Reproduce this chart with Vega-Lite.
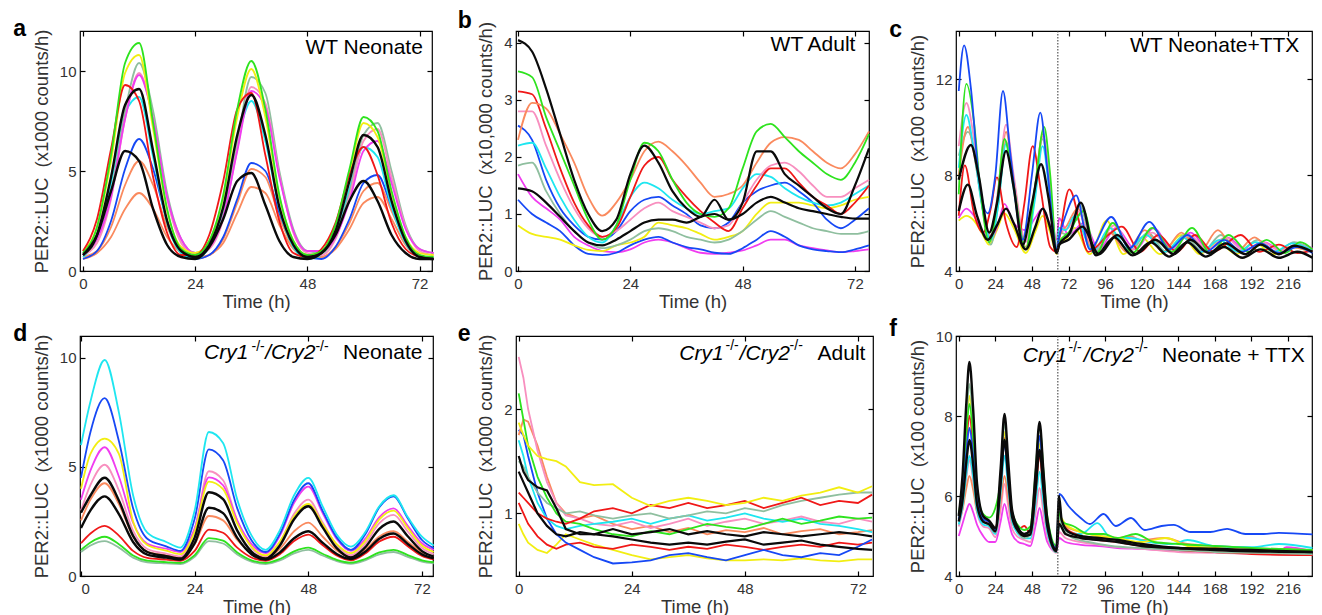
{
"$schema":"https://vega.github.io/schema/vega-lite/v6.json",
"background":"white",
"padding":{"left":12,"top":9,"right":4,"bottom":2},
"config":{
 "font":"Liberation Sans",
 "view":{"stroke":"#000","strokeWidth":1.2},
 "axis":{"grid":false,"domain":false,"tickSize":-5,"tickColor":"#000","tickWidth":1.2,"labelFontSize":15,"labelColor":"#333","titleFontSize":18.5,"titleFontWeight":"normal","titleColor":"#333"},
 "axisX":{"labelPadding":10,"titlePadding":1},
 "axisY":{"labelPadding":9,"titlePadding":8},
 "line":{"clip":true,"interpolate":"monotone"},
 "title":{"anchor":"start","frame":"bounds","fontSize":23,"fontWeight":"bold","color":"#000","dx":-19,"offset":-12,"baseline":"alphabetic"},
 "text":{"color":"#000"}
},
"datasets":{
"a":[
{"s":1,"t":0,"v":0.6},{"s":1,"t":3,"v":0.9},{"s":1,"t":6,"v":1.7},{"s":1,"t":9,"v":3.1},{"s":1,"t":12,"v":3.9},{"s":1,"t":15,"v":3.1},{"s":1,"t":18,"v":1.7},{"s":1,"t":21,"v":0.9},{"s":1,"t":24,"v":0.6},{"s":1,"t":27,"v":0.8},{"s":1,"t":30,"v":1.4},{"s":1,"t":33,"v":2.9},{"s":1,"t":36,"v":4.2},{"s":1,"t":39,"v":3.9},{"s":1,"t":42,"v":2.3},{"s":1,"t":45,"v":1.1},{"s":1,"t":48,"v":0.7},{"s":1,"t":51,"v":0.7},{"s":1,"t":54,"v":1.1},{"s":1,"t":57,"v":2.1},{"s":1,"t":60,"v":3.4},{"s":1,"t":63,"v":3.7},{"s":1,"t":66,"v":2.6},{"s":1,"t":69,"v":1.3},{"s":1,"t":72,"v":0.7},{"s":1,"t":75,"v":0.6},
{"s":2,"t":0,"v":0.7},{"s":2,"t":3,"v":1.0},{"s":2,"t":6,"v":2.2},{"s":2,"t":9,"v":4.3},{"s":2,"t":12,"v":5.5},{"s":2,"t":15,"v":4.3},{"s":2,"t":18,"v":2.2},{"s":2,"t":21,"v":1.0},{"s":2,"t":24,"v":0.7},{"s":2,"t":27,"v":0.8},{"s":2,"t":30,"v":1.6},{"s":2,"t":33,"v":3.4},{"s":2,"t":36,"v":5.1},{"s":2,"t":39,"v":4.7},{"s":2,"t":42,"v":2.7},{"s":2,"t":45,"v":1.2},{"s":2,"t":48,"v":0.7},{"s":2,"t":51,"v":0.7},{"s":2,"t":54,"v":1.2},{"s":2,"t":57,"v":2.4},{"s":2,"t":60,"v":4.0},{"s":2,"t":63,"v":4.4},{"s":2,"t":66,"v":3.0},{"s":2,"t":69,"v":1.5},{"s":2,"t":72,"v":0.8},{"s":2,"t":75,"v":0.6},
{"s":3,"t":0,"v":0.6},{"s":3,"t":3,"v":1.0},{"s":3,"t":6,"v":2.5},{"s":3,"t":9,"v":5.1},{"s":3,"t":12,"v":6.6},{"s":3,"t":15,"v":5.1},{"s":3,"t":18,"v":2.5},{"s":3,"t":21,"v":1.0},{"s":3,"t":24,"v":0.6},{"s":3,"t":27,"v":0.8},{"s":3,"t":30,"v":1.7},{"s":3,"t":33,"v":3.6},{"s":3,"t":36,"v":5.4},{"s":3,"t":39,"v":5.0},{"s":3,"t":42,"v":2.9},{"s":3,"t":45,"v":1.3},{"s":3,"t":48,"v":0.7},{"s":3,"t":51,"v":0.6},{"s":3,"t":54,"v":1.2},{"s":3,"t":57,"v":2.6},{"s":3,"t":60,"v":4.4},{"s":3,"t":63,"v":4.8},{"s":3,"t":66,"v":3.2},{"s":3,"t":69,"v":1.5},{"s":3,"t":72,"v":0.7},{"s":3,"t":75,"v":0.6},
{"s":4,"t":0,"v":0.7},{"s":4,"t":3,"v":1.7},{"s":4,"t":6,"v":4.4},{"s":4,"t":9,"v":7.9},{"s":4,"t":12,"v":8.7},{"s":4,"t":15,"v":5.7},{"s":4,"t":18,"v":2.4},{"s":4,"t":21,"v":0.9},{"s":4,"t":24,"v":0.6},{"s":4,"t":27,"v":1.2},{"s":4,"t":30,"v":3.1},{"s":4,"t":33,"v":6.5},{"s":4,"t":36,"v":8.5},{"s":4,"t":39,"v":6.5},{"s":4,"t":42,"v":3.1},{"s":4,"t":45,"v":1.2},{"s":4,"t":48,"v":0.6},{"s":4,"t":51,"v":0.8},{"s":4,"t":54,"v":1.8},{"s":4,"t":57,"v":4.1},{"s":4,"t":60,"v":6.2},{"s":4,"t":63,"v":5.7},{"s":4,"t":66,"v":3.2},{"s":4,"t":69,"v":1.4},{"s":4,"t":72,"v":0.7},{"s":4,"t":75,"v":0.6},
{"s":5,"t":0,"v":0.9},{"s":5,"t":3,"v":1.6},{"s":5,"t":6,"v":3.9},{"s":5,"t":9,"v":8.0},{"s":5,"t":12,"v":10.4},{"s":5,"t":15,"v":8.0},{"s":5,"t":18,"v":3.9},{"s":5,"t":21,"v":1.6},{"s":5,"t":24,"v":0.9},{"s":5,"t":27,"v":1.2},{"s":5,"t":30,"v":2.8},{"s":5,"t":33,"v":6.4},{"s":5,"t":36,"v":9.7},{"s":5,"t":39,"v":8.9},{"s":5,"t":42,"v":5.0},{"s":5,"t":45,"v":2.1},{"s":5,"t":48,"v":1.0},{"s":5,"t":51,"v":0.9},{"s":5,"t":54,"v":1.8},{"s":5,"t":57,"v":3.9},{"s":5,"t":60,"v":6.8},{"s":5,"t":63,"v":7.4},{"s":5,"t":66,"v":5.0},{"s":5,"t":69,"v":2.3},{"s":5,"t":72,"v":1.1},{"s":5,"t":75,"v":0.9},
{"s":6,"t":0,"v":0.8},{"s":6,"t":3,"v":1.4},{"s":6,"t":6,"v":3.6},{"s":6,"t":9,"v":7.6},{"s":6,"t":12,"v":9.9},{"s":6,"t":15,"v":7.6},{"s":6,"t":18,"v":3.6},{"s":6,"t":21,"v":1.4},{"s":6,"t":24,"v":0.8},{"s":6,"t":27,"v":1.1},{"s":6,"t":30,"v":2.6},{"s":6,"t":33,"v":6.1},{"s":6,"t":36,"v":9.2},{"s":6,"t":39,"v":8.4},{"s":6,"t":42,"v":4.8},{"s":6,"t":45,"v":1.9},{"s":6,"t":48,"v":0.9},{"s":6,"t":51,"v":0.8},{"s":6,"t":54,"v":1.6},{"s":6,"t":57,"v":3.7},{"s":6,"t":60,"v":6.5},{"s":6,"t":63,"v":7.1},{"s":6,"t":66,"v":4.7},{"s":6,"t":69,"v":2.2},{"s":6,"t":72,"v":1.0},{"s":6,"t":75,"v":0.8},
{"s":7,"t":0,"v":0.9},{"s":7,"t":3,"v":1.6},{"s":7,"t":6,"v":3.7},{"s":7,"t":9,"v":7.6},{"s":7,"t":12,"v":9.8},{"s":7,"t":15,"v":7.6},{"s":7,"t":18,"v":3.7},{"s":7,"t":21,"v":1.6},{"s":7,"t":24,"v":0.9},{"s":7,"t":27,"v":1.2},{"s":7,"t":30,"v":2.7},{"s":7,"t":33,"v":6.0},{"s":7,"t":36,"v":9.0},{"s":7,"t":39,"v":8.2},{"s":7,"t":42,"v":4.7},{"s":7,"t":45,"v":2.0},{"s":7,"t":48,"v":1.0},{"s":7,"t":51,"v":1.0},{"s":7,"t":54,"v":1.7},{"s":7,"t":57,"v":3.5},{"s":7,"t":60,"v":6.0},{"s":7,"t":63,"v":6.5},{"s":7,"t":66,"v":4.4},{"s":7,"t":69,"v":2.1},{"s":7,"t":72,"v":1.1},{"s":7,"t":75,"v":0.9},
{"s":8,"t":0,"v":1.0},{"s":8,"t":3,"v":2.2},{"s":8,"t":6,"v":5.5},{"s":8,"t":9,"v":9.9},{"s":8,"t":12,"v":10.8},{"s":8,"t":15,"v":7.1},{"s":8,"t":18,"v":3.0},{"s":8,"t":21,"v":1.2},{"s":8,"t":24,"v":0.9},{"s":8,"t":27,"v":1.5},{"s":8,"t":30,"v":3.7},{"s":8,"t":33,"v":7.7},{"s":8,"t":36,"v":10.1},{"s":8,"t":39,"v":7.7},{"s":8,"t":42,"v":3.7},{"s":8,"t":45,"v":1.5},{"s":8,"t":48,"v":0.8},{"s":8,"t":51,"v":1.0},{"s":8,"t":54,"v":2.3},{"s":8,"t":57,"v":4.9},{"s":8,"t":60,"v":7.4},{"s":8,"t":63,"v":6.7},{"s":8,"t":66,"v":3.9},{"s":8,"t":69,"v":1.7},{"s":8,"t":72,"v":0.9},{"s":8,"t":75,"v":0.8},
{"s":9,"t":0,"v":1.0},{"s":9,"t":3,"v":2.6},{"s":9,"t":6,"v":6.1},{"s":9,"t":9,"v":9.3},{"s":9,"t":12,"v":8.5},{"s":9,"t":15,"v":4.7},{"s":9,"t":18,"v":1.9},{"s":9,"t":21,"v":0.8},{"s":9,"t":24,"v":0.8},{"s":9,"t":27,"v":1.8},{"s":9,"t":30,"v":4.5},{"s":9,"t":33,"v":8.1},{"s":9,"t":36,"v":8.9},{"s":9,"t":39,"v":5.8},{"s":9,"t":42,"v":2.5},{"s":9,"t":45,"v":0.9},{"s":9,"t":48,"v":0.7},{"s":9,"t":51,"v":1.1},{"s":9,"t":54,"v":2.4},{"s":9,"t":57,"v":4.8},{"s":9,"t":60,"v":6.2},{"s":9,"t":63,"v":4.8},{"s":9,"t":66,"v":2.4},{"s":9,"t":69,"v":1.1},{"s":9,"t":72,"v":0.7},{"s":9,"t":75,"v":0.6},
{"s":10,"t":0,"v":0.9},{"s":10,"t":3,"v":2.2},{"s":10,"t":6,"v":5.8},{"s":10,"t":9,"v":10.4},{"s":10,"t":12,"v":11.4},{"s":10,"t":15,"v":7.4},{"s":10,"t":18,"v":3.1},{"s":10,"t":21,"v":1.1},{"s":10,"t":24,"v":0.8},{"s":10,"t":27,"v":1.5},{"s":10,"t":30,"v":3.8},{"s":10,"t":33,"v":8.1},{"s":10,"t":36,"v":10.5},{"s":10,"t":39,"v":8.1},{"s":10,"t":42,"v":3.8},{"s":10,"t":45,"v":1.5},{"s":10,"t":48,"v":0.8},{"s":10,"t":51,"v":1.0},{"s":10,"t":54,"v":2.3},{"s":10,"t":57,"v":5.1},{"s":10,"t":60,"v":7.7},{"s":10,"t":63,"v":7.0},{"s":10,"t":66,"v":4.0},{"s":10,"t":69,"v":1.7},{"s":10,"t":72,"v":0.8},{"s":10,"t":75,"v":0.7},
{"s":11,"t":0,"v":0.8},{"s":11,"t":3,"v":1.8},{"s":11,"t":6,"v":4.0},{"s":11,"t":9,"v":6.0},{"s":11,"t":12,"v":5.5},{"s":11,"t":15,"v":3.1},{"s":11,"t":18,"v":1.3},{"s":11,"t":21,"v":0.7},{"s":11,"t":24,"v":0.6},{"s":11,"t":27,"v":1.2},{"s":11,"t":30,"v":2.6},{"s":11,"t":33,"v":4.5},{"s":11,"t":36,"v":4.9},{"s":11,"t":39,"v":3.3},{"s":11,"t":42,"v":1.5},{"s":11,"t":45,"v":0.7},{"s":11,"t":48,"v":0.6},{"s":11,"t":51,"v":0.9},{"s":11,"t":54,"v":1.8},{"s":11,"t":57,"v":3.5},{"s":11,"t":60,"v":4.5},{"s":11,"t":63,"v":3.5},{"s":11,"t":66,"v":1.8},{"s":11,"t":69,"v":0.9},{"s":11,"t":72,"v":0.6},{"s":11,"t":75,"v":0.6},
{"s":12,"t":0,"v":0.8},{"s":12,"t":3,"v":1.8},{"s":12,"t":6,"v":4.7},{"s":12,"t":9,"v":8.3},{"s":12,"t":12,"v":9.1},{"s":12,"t":15,"v":6.0},{"s":12,"t":18,"v":2.5},{"s":12,"t":21,"v":1.0},{"s":12,"t":24,"v":0.7},{"s":12,"t":27,"v":1.3},{"s":12,"t":30,"v":3.2},{"s":12,"t":33,"v":6.8},{"s":12,"t":36,"v":8.8},{"s":12,"t":39,"v":6.8},{"s":12,"t":42,"v":3.2},{"s":12,"t":45,"v":1.3},{"s":12,"t":48,"v":0.7},{"s":12,"t":51,"v":0.9},{"s":12,"t":54,"v":2.0},{"s":12,"t":57,"v":4.5},{"s":12,"t":60,"v":6.8},{"s":12,"t":63,"v":6.2},{"s":12,"t":66,"v":3.5},{"s":12,"t":69,"v":1.5},{"s":12,"t":72,"v":0.7},{"s":12,"t":75,"v":0.6}
],
"b":[
{"s":1,"t":0,"v":1.7},{"s":1,"t":3,"v":1.3},{"s":1,"t":6,"v":1.1},{"s":1,"t":9,"v":0.9},{"s":1,"t":12,"v":0.6},{"s":1,"t":15,"v":0.45},{"s":1,"t":18,"v":0.35},{"s":1,"t":21,"v":0.33},{"s":1,"t":24,"v":0.38},{"s":1,"t":27,"v":0.5},{"s":1,"t":30,"v":0.55},{"s":1,"t":33,"v":0.5},{"s":1,"t":36,"v":0.4},{"s":1,"t":39,"v":0.32},{"s":1,"t":42,"v":0.3},{"s":1,"t":45,"v":0.32},{"s":1,"t":48,"v":0.36},{"s":1,"t":51,"v":0.45},{"s":1,"t":54,"v":0.55},{"s":1,"t":57,"v":0.55},{"s":1,"t":60,"v":0.45},{"s":1,"t":63,"v":0.4},{"s":1,"t":66,"v":0.36},{"s":1,"t":69,"v":0.33},{"s":1,"t":72,"v":0.35},{"s":1,"t":75,"v":0.38},
{"s":2,"t":0,"v":1.25},{"s":2,"t":3,"v":1.0},{"s":2,"t":6,"v":0.85},{"s":2,"t":9,"v":0.7},{"s":2,"t":12,"v":0.45},{"s":2,"t":15,"v":0.3},{"s":2,"t":18,"v":0.28},{"s":2,"t":21,"v":0.32},{"s":2,"t":24,"v":0.45},{"s":2,"t":27,"v":0.55},{"s":2,"t":30,"v":0.6},{"s":2,"t":33,"v":0.5},{"s":2,"t":36,"v":0.42},{"s":2,"t":39,"v":0.38},{"s":2,"t":42,"v":0.32},{"s":2,"t":45,"v":0.3},{"s":2,"t":48,"v":0.4},{"s":2,"t":51,"v":0.55},{"s":2,"t":54,"v":0.7},{"s":2,"t":57,"v":0.6},{"s":2,"t":60,"v":0.45},{"s":2,"t":63,"v":0.38},{"s":2,"t":66,"v":0.35},{"s":2,"t":69,"v":0.33},{"s":2,"t":72,"v":0.38},{"s":2,"t":75,"v":0.45},
{"s":3,"t":0,"v":0.8},{"s":3,"t":3,"v":0.65},{"s":3,"t":6,"v":0.6},{"s":3,"t":9,"v":0.55},{"s":3,"t":12,"v":0.45},{"s":3,"t":15,"v":0.37},{"s":3,"t":18,"v":0.35},{"s":3,"t":21,"v":0.45},{"s":3,"t":24,"v":0.5},{"s":3,"t":27,"v":0.6},{"s":3,"t":30,"v":0.85},{"s":3,"t":33,"v":0.8},{"s":3,"t":36,"v":0.75},{"s":3,"t":39,"v":0.65},{"s":3,"t":42,"v":0.55},{"s":3,"t":45,"v":0.6},{"s":3,"t":48,"v":0.7},{"s":3,"t":51,"v":1.0},{"s":3,"t":54,"v":1.2},{"s":3,"t":57,"v":1.2},{"s":3,"t":60,"v":1.2},{"s":3,"t":63,"v":1.15},{"s":3,"t":66,"v":1.1},{"s":3,"t":69,"v":1.15},{"s":3,"t":72,"v":1.25},{"s":3,"t":75,"v":1.3},
{"s":4,"t":0,"v":1.85},{"s":4,"t":3,"v":1.9},{"s":4,"t":6,"v":1.4},{"s":4,"t":9,"v":1.0},{"s":4,"t":12,"v":0.7},{"s":4,"t":15,"v":0.5},{"s":4,"t":18,"v":0.4},{"s":4,"t":21,"v":0.45},{"s":4,"t":24,"v":0.55},{"s":4,"t":27,"v":0.7},{"s":4,"t":30,"v":0.75},{"s":4,"t":33,"v":0.7},{"s":4,"t":36,"v":0.6},{"s":4,"t":39,"v":0.55},{"s":4,"t":42,"v":0.5},{"s":4,"t":45,"v":0.55},{"s":4,"t":48,"v":0.7},{"s":4,"t":51,"v":0.9},{"s":4,"t":54,"v":1.05},{"s":4,"t":57,"v":0.95},{"s":4,"t":60,"v":0.85},{"s":4,"t":63,"v":0.75},{"s":4,"t":66,"v":0.7},{"s":4,"t":69,"v":0.65},{"s":4,"t":72,"v":0.65},{"s":4,"t":75,"v":0.7},
{"s":5,"t":0,"v":2.55},{"s":5,"t":3,"v":2.3},{"s":5,"t":6,"v":1.6},{"s":5,"t":9,"v":1.1},{"s":5,"t":12,"v":0.8},{"s":5,"t":15,"v":0.6},{"s":5,"t":18,"v":0.55},{"s":5,"t":21,"v":0.7},{"s":5,"t":24,"v":1.05},{"s":5,"t":27,"v":1.25},{"s":5,"t":30,"v":1.3},{"s":5,"t":33,"v":1.15},{"s":5,"t":36,"v":1.0},{"s":5,"t":39,"v":0.8},{"s":5,"t":42,"v":0.75},{"s":5,"t":45,"v":0.85},{"s":5,"t":48,"v":1.2},{"s":5,"t":51,"v":1.4},{"s":5,"t":54,"v":1.5},{"s":5,"t":57,"v":1.55},{"s":5,"t":60,"v":1.4},{"s":5,"t":63,"v":1.2},{"s":5,"t":66,"v":0.9},{"s":5,"t":69,"v":0.75},{"s":5,"t":72,"v":0.9},{"s":5,"t":75,"v":1.1},
{"s":6,"t":0,"v":2.2},{"s":6,"t":3,"v":2.25},{"s":6,"t":6,"v":1.8},{"s":6,"t":9,"v":1.3},{"s":6,"t":12,"v":0.9},{"s":6,"t":15,"v":0.6},{"s":6,"t":18,"v":0.5},{"s":6,"t":21,"v":0.8},{"s":6,"t":24,"v":1.3},{"s":6,"t":27,"v":1.55},{"s":6,"t":30,"v":1.45},{"s":6,"t":33,"v":1.25},{"s":6,"t":36,"v":1.1},{"s":6,"t":39,"v":1.0},{"s":6,"t":42,"v":1.05},{"s":6,"t":45,"v":1.1},{"s":6,"t":48,"v":1.45},{"s":6,"t":51,"v":1.7},{"s":6,"t":54,"v":1.65},{"s":6,"t":57,"v":1.45},{"s":6,"t":60,"v":1.3},{"s":6,"t":63,"v":1.2},{"s":6,"t":66,"v":1.15},{"s":6,"t":69,"v":1.2},{"s":6,"t":72,"v":1.35},{"s":6,"t":75,"v":1.5},
{"s":7,"t":0,"v":2.8},{"s":7,"t":3,"v":2.8},{"s":7,"t":6,"v":2.2},{"s":7,"t":9,"v":1.6},{"s":7,"t":12,"v":1.1},{"s":7,"t":15,"v":0.75},{"s":7,"t":18,"v":0.6},{"s":7,"t":21,"v":0.7},{"s":7,"t":24,"v":0.9},{"s":7,"t":27,"v":1.1},{"s":7,"t":30,"v":1.2},{"s":7,"t":33,"v":1.05},{"s":7,"t":36,"v":0.95},{"s":7,"t":39,"v":0.85},{"s":7,"t":42,"v":0.75},{"s":7,"t":45,"v":0.8},{"s":7,"t":48,"v":1.2},{"s":7,"t":51,"v":1.6},{"s":7,"t":54,"v":1.85},{"s":7,"t":57,"v":1.9},{"s":7,"t":60,"v":1.75},{"s":7,"t":63,"v":1.5},{"s":7,"t":66,"v":1.3},{"s":7,"t":69,"v":1.3},{"s":7,"t":72,"v":1.45},{"s":7,"t":75,"v":1.6},
{"s":8,"t":0,"v":3.15},{"s":8,"t":3,"v":3.1},{"s":8,"t":6,"v":2.5},{"s":8,"t":9,"v":1.8},{"s":8,"t":12,"v":1.2},{"s":8,"t":15,"v":0.8},{"s":8,"t":18,"v":0.6},{"s":8,"t":21,"v":0.75},{"s":8,"t":24,"v":1.3},{"s":8,"t":27,"v":1.85},{"s":8,"t":30,"v":2.0},{"s":8,"t":33,"v":1.6},{"s":8,"t":36,"v":1.3},{"s":8,"t":39,"v":1.05},{"s":8,"t":42,"v":0.85},{"s":8,"t":45,"v":0.7},{"s":8,"t":48,"v":1.1},{"s":8,"t":51,"v":1.5},{"s":8,"t":54,"v":1.8},{"s":8,"t":57,"v":1.8},{"s":8,"t":60,"v":1.55},{"s":8,"t":63,"v":1.3},{"s":8,"t":66,"v":1.15},{"s":8,"t":69,"v":1.0},{"s":8,"t":72,"v":1.2},{"s":8,"t":75,"v":1.5},
{"s":9,"t":0,"v":2.3},{"s":9,"t":3,"v":2.95},{"s":9,"t":6,"v":2.85},{"s":9,"t":9,"v":2.4},{"s":9,"t":12,"v":1.9},{"s":9,"t":15,"v":1.3},{"s":9,"t":18,"v":0.97},{"s":9,"t":21,"v":1.2},{"s":9,"t":24,"v":1.6},{"s":9,"t":27,"v":2.1},{"s":9,"t":30,"v":2.27},{"s":9,"t":33,"v":2.1},{"s":9,"t":36,"v":1.85},{"s":9,"t":39,"v":1.55},{"s":9,"t":42,"v":1.3},{"s":9,"t":45,"v":1.35},{"s":9,"t":48,"v":1.5},{"s":9,"t":51,"v":1.9},{"s":9,"t":54,"v":2.25},{"s":9,"t":57,"v":2.35},{"s":9,"t":60,"v":2.3},{"s":9,"t":63,"v":2.1},{"s":9,"t":66,"v":1.9},{"s":9,"t":69,"v":1.8},{"s":9,"t":72,"v":2.05},{"s":9,"t":75,"v":2.45},
{"s":10,"t":0,"v":3.5},{"s":10,"t":3,"v":3.4},{"s":10,"t":6,"v":2.7},{"s":10,"t":9,"v":2.1},{"s":10,"t":12,"v":1.5},{"s":10,"t":15,"v":0.9},{"s":10,"t":18,"v":0.55},{"s":10,"t":21,"v":0.8},{"s":10,"t":24,"v":1.6},{"s":10,"t":27,"v":2.25},{"s":10,"t":30,"v":2.1},{"s":10,"t":33,"v":1.6},{"s":10,"t":36,"v":1.2},{"s":10,"t":39,"v":1.0},{"s":10,"t":42,"v":0.95},{"s":10,"t":45,"v":1.1},{"s":10,"t":48,"v":1.8},{"s":10,"t":51,"v":2.45},{"s":10,"t":54,"v":2.58},{"s":10,"t":57,"v":2.35},{"s":10,"t":60,"v":2.1},{"s":10,"t":63,"v":1.9},{"s":10,"t":66,"v":1.7},{"s":10,"t":69,"v":1.6},{"s":10,"t":72,"v":1.9},{"s":10,"t":75,"v":2.4},
{"s":11,"t":0,"v":1.45},{"s":11,"t":3,"v":1.4},{"s":11,"t":6,"v":1.2},{"s":11,"t":9,"v":0.95},{"s":11,"t":12,"v":0.7},{"s":11,"t":15,"v":0.5},{"s":11,"t":18,"v":0.45},{"s":11,"t":21,"v":0.55},{"s":11,"t":24,"v":0.7},{"s":11,"t":27,"v":0.85},{"s":11,"t":30,"v":0.9},{"s":11,"t":33,"v":0.9},{"s":11,"t":36,"v":0.85},{"s":11,"t":39,"v":0.95},{"s":11,"t":42,"v":1.0},{"s":11,"t":45,"v":0.9},{"s":11,"t":48,"v":1.0},{"s":11,"t":51,"v":1.2},{"s":11,"t":54,"v":1.3},{"s":11,"t":57,"v":1.2},{"s":11,"t":60,"v":1.1},{"s":11,"t":63,"v":1.05},{"s":11,"t":66,"v":1.0},{"s":11,"t":69,"v":0.95},{"s":11,"t":72,"v":0.92},{"s":11,"t":75,"v":0.92},
{"s":12,"t":0,"v":4.05},{"s":12,"t":3,"v":3.85},{"s":12,"t":6,"v":3.2},{"s":12,"t":9,"v":2.4},{"s":12,"t":12,"v":1.6},{"s":12,"t":15,"v":1.0},{"s":12,"t":18,"v":0.7},{"s":12,"t":21,"v":0.9},{"s":12,"t":24,"v":1.7},{"s":12,"t":27,"v":2.2},{"s":12,"t":30,"v":1.9},{"s":12,"t":33,"v":1.4},{"s":12,"t":36,"v":1.1},{"s":12,"t":39,"v":0.95},{"s":12,"t":42,"v":1.25},{"s":12,"t":45,"v":0.9},{"s":12,"t":48,"v":1.2},{"s":12,"t":51,"v":2.1},{"s":12,"t":54,"v":2.1},{"s":12,"t":57,"v":1.7},{"s":12,"t":60,"v":1.5},{"s":12,"t":63,"v":1.3},{"s":12,"t":66,"v":1.1},{"s":12,"t":69,"v":1.0},{"s":12,"t":72,"v":1.5},{"s":12,"t":75,"v":2.15}
],
"c":[
{"s":1,"t":0,"v":6.1},{"s":1,"t":5,"v":6.3},{"s":1,"t":10,"v":6.1},{"s":1,"t":15,"v":5.6},{"s":1,"t":20,"v":5.1},{"s":1,"t":25,"v":5.7},{"s":1,"t":30,"v":6.4},{"s":1,"t":36,"v":5.8},{"s":1,"t":44,"v":4.75},{"s":1,"t":50,"v":5.6},{"s":1,"t":55,"v":6.3},{"s":1,"t":60,"v":5.6},{"s":1,"t":64.3,"v":4.7},{"s":1,"t":65.8,"v":5.2},{"s":1,"t":70,"v":5.3},{"s":1,"t":76,"v":5.8},{"s":1,"t":86,"v":4.7},{"s":1,"t":97,"v":6.1},{"s":1,"t":108,"v":4.7},{"s":1,"t":120,"v":5.4},{"s":1,"t":132,"v":4.7},{"s":1,"t":146,"v":5.5},{"s":1,"t":158,"v":4.7},{"s":1,"t":170,"v":5.2},{"s":1,"t":182,"v":4.7},{"s":1,"t":194,"v":5.2},{"s":1,"t":206,"v":4.7},{"s":1,"t":218,"v":5.0},{"s":1,"t":232,"v":4.8},
{"s":2,"t":0,"v":6.2},{"s":2,"t":5,"v":6.6},{"s":2,"t":10,"v":6.3},{"s":2,"t":15,"v":5.7},{"s":2,"t":21,"v":5.3},{"s":2,"t":26,"v":6.0},{"s":2,"t":30,"v":6.8},{"s":2,"t":36,"v":6.0},{"s":2,"t":44,"v":5.7},{"s":2,"t":50,"v":6.2},{"s":2,"t":55,"v":6.6},{"s":2,"t":60,"v":5.9},{"s":2,"t":64.3,"v":5.3},{"s":2,"t":65.8,"v":6.2},{"s":2,"t":72,"v":5.5},{"s":2,"t":82,"v":6.0},{"s":2,"t":92,"v":4.9},{"s":2,"t":103,"v":5.8},{"s":2,"t":116,"v":4.9},{"s":2,"t":128,"v":5.8},{"s":2,"t":140,"v":4.9},{"s":2,"t":152,"v":5.6},{"s":2,"t":164,"v":4.9},{"s":2,"t":176,"v":5.4},{"s":2,"t":188,"v":4.9},{"s":2,"t":200,"v":5.2},{"s":2,"t":212,"v":4.85},{"s":2,"t":224,"v":5.1},{"s":2,"t":232,"v":4.95},
{"s":3,"t":0,"v":8.8},{"s":3,"t":6,"v":9.8},{"s":3,"t":11,"v":8.8},{"s":3,"t":16,"v":6.5},{"s":3,"t":21,"v":5.1},{"s":3,"t":26,"v":6.8},{"s":3,"t":31,"v":9.4},{"s":3,"t":36,"v":7.6},{"s":3,"t":44,"v":4.9},{"s":3,"t":50,"v":7.3},{"s":3,"t":55,"v":9.5},{"s":3,"t":60,"v":7.3},{"s":3,"t":64.3,"v":4.9},{"s":3,"t":65.8,"v":5.6},{"s":3,"t":73,"v":5.5},{"s":3,"t":79,"v":6.8},{"s":3,"t":89,"v":4.75},{"s":3,"t":100,"v":5.6},{"s":3,"t":112,"v":4.8},{"s":3,"t":124,"v":5.6},{"s":3,"t":136,"v":4.8},{"s":3,"t":148,"v":5.5},{"s":3,"t":160,"v":4.8},{"s":3,"t":172,"v":5.5},{"s":3,"t":184,"v":4.8},{"s":3,"t":196,"v":5.3},{"s":3,"t":208,"v":4.8},{"s":3,"t":220,"v":5.2},{"s":3,"t":232,"v":4.85},
{"s":4,"t":0,"v":8.0},{"s":4,"t":6,"v":10.0},{"s":4,"t":11,"v":8.5},{"s":4,"t":16,"v":6.5},{"s":4,"t":21,"v":5.4},{"s":4,"t":26,"v":7.0},{"s":4,"t":31,"v":9.8},{"s":4,"t":36,"v":7.8},{"s":4,"t":44,"v":5.0},{"s":4,"t":50,"v":7.3},{"s":4,"t":55,"v":9.7},{"s":4,"t":60,"v":7.4},{"s":4,"t":64.3,"v":4.9},{"s":4,"t":65.8,"v":5.4},{"s":4,"t":71,"v":5.9},{"s":4,"t":78,"v":6.6},{"s":4,"t":88,"v":4.8},{"s":4,"t":99,"v":5.6},{"s":4,"t":110,"v":4.8},{"s":4,"t":122,"v":5.7},{"s":4,"t":134,"v":4.8},{"s":4,"t":146,"v":5.6},{"s":4,"t":158,"v":4.8},{"s":4,"t":170,"v":5.7},{"s":4,"t":182,"v":4.8},{"s":4,"t":194,"v":5.4},{"s":4,"t":206,"v":4.8},{"s":4,"t":218,"v":5.0},{"s":4,"t":232,"v":4.8},
{"s":5,"t":0,"v":9.2},{"s":5,"t":5,"v":11.0},{"s":5,"t":10,"v":9.5},{"s":5,"t":15,"v":7.0},{"s":5,"t":21,"v":5.5},{"s":5,"t":26,"v":7.5},{"s":5,"t":31,"v":10.1},{"s":5,"t":36,"v":8.0},{"s":5,"t":44,"v":5.2},{"s":5,"t":50,"v":7.5},{"s":5,"t":55,"v":9.6},{"s":5,"t":60,"v":7.5},{"s":5,"t":64.3,"v":5.0},{"s":5,"t":65.8,"v":5.6},{"s":5,"t":72,"v":5.8},{"s":5,"t":78,"v":6.5},{"s":5,"t":89,"v":4.9},{"s":5,"t":102,"v":5.9},{"s":5,"t":114,"v":4.9},{"s":5,"t":127,"v":5.6},{"s":5,"t":139,"v":4.9},{"s":5,"t":151,"v":5.5},{"s":5,"t":163,"v":4.9},{"s":5,"t":175,"v":5.4},{"s":5,"t":187,"v":4.85},{"s":5,"t":199,"v":5.2},{"s":5,"t":211,"v":4.85},{"s":5,"t":222,"v":5.1},{"s":5,"t":232,"v":4.9},
{"s":6,"t":0,"v":8.3},{"s":6,"t":5,"v":10.5},{"s":6,"t":10,"v":9.0},{"s":6,"t":15,"v":6.8},{"s":6,"t":21,"v":5.3},{"s":6,"t":26,"v":6.8},{"s":6,"t":31,"v":9.3},{"s":6,"t":36,"v":7.4},{"s":6,"t":44,"v":4.9},{"s":6,"t":50,"v":7.0},{"s":6,"t":55,"v":9.2},{"s":6,"t":60,"v":7.0},{"s":6,"t":64.3,"v":4.85},{"s":6,"t":65.8,"v":5.8},{"s":6,"t":70,"v":5.7},{"s":6,"t":76,"v":6.3},{"s":6,"t":88,"v":4.8},{"s":6,"t":99,"v":5.8},{"s":6,"t":111,"v":4.9},{"s":6,"t":123,"v":5.5},{"s":6,"t":135,"v":4.8},{"s":6,"t":147,"v":5.4},{"s":6,"t":159,"v":4.8},{"s":6,"t":171,"v":5.3},{"s":6,"t":183,"v":4.8},{"s":6,"t":195,"v":5.2},{"s":6,"t":207,"v":4.8},{"s":6,"t":219,"v":5.15},{"s":6,"t":232,"v":4.85},
{"s":7,"t":0,"v":6.3},{"s":7,"t":4,"v":8.4},{"s":7,"t":10,"v":6.4},{"s":7,"t":16,"v":5.6},{"s":7,"t":21,"v":6.6},{"s":7,"t":25,"v":7.9},{"s":7,"t":31,"v":6.0},{"s":7,"t":38,"v":5.0},{"s":7,"t":43,"v":6.8},{"s":7,"t":48.5,"v":9.2},{"s":7,"t":54,"v":7.3},{"s":7,"t":60,"v":5.0},{"s":7,"t":64.3,"v":4.8},{"s":7,"t":65.8,"v":5.3},{"s":7,"t":72.5,"v":7.4},{"s":7,"t":85,"v":4.8},{"s":7,"t":98,"v":5.5},{"s":7,"t":107,"v":5.85},{"s":7,"t":119,"v":4.8},{"s":7,"t":131,"v":5.5},{"s":7,"t":143,"v":4.8},{"s":7,"t":155,"v":5.5},{"s":7,"t":167,"v":4.8},{"s":7,"t":185,"v":5.5},{"s":7,"t":197,"v":4.8},{"s":7,"t":210,"v":5.1},{"s":7,"t":222,"v":4.75},{"s":7,"t":232,"v":4.85},
{"s":8,"t":0,"v":7.2},{"s":8,"t":5,"v":11.8},{"s":8,"t":10,"v":10.2},{"s":8,"t":14,"v":7.5},{"s":8,"t":20,"v":5.2},{"s":8,"t":25,"v":6.8},{"s":8,"t":30,"v":9.5},{"s":8,"t":35,"v":8.0},{"s":8,"t":44,"v":4.9},{"s":8,"t":50,"v":7.5},{"s":8,"t":56,"v":10.0},{"s":8,"t":60,"v":8.0},{"s":8,"t":64.3,"v":4.8},{"s":8,"t":65.8,"v":5.2},{"s":8,"t":72,"v":5.6},{"s":8,"t":82,"v":6.5},{"s":8,"t":90,"v":4.7},{"s":8,"t":101,"v":6.0},{"s":8,"t":114,"v":4.75},{"s":8,"t":127,"v":5.8},{"s":8,"t":140,"v":4.8},{"s":8,"t":153,"v":5.8},{"s":8,"t":165,"v":4.75},{"s":8,"t":177,"v":5.5},{"s":8,"t":190,"v":4.8},{"s":8,"t":202,"v":5.3},{"s":8,"t":214,"v":4.75},{"s":8,"t":224,"v":5.2},{"s":8,"t":232,"v":4.9},
{"s":9,"t":0,"v":11.5},{"s":9,"t":3.5,"v":13.4},{"s":9,"t":8,"v":11.6},{"s":9,"t":13,"v":8.0},{"s":9,"t":19,"v":6.4},{"s":9,"t":24,"v":8.0},{"s":9,"t":29,"v":11.5},{"s":9,"t":34,"v":8.8},{"s":9,"t":42,"v":5.3},{"s":9,"t":48,"v":8.0},{"s":9,"t":53.5,"v":10.6},{"s":9,"t":58,"v":8.3},{"s":9,"t":64.3,"v":4.9},{"s":9,"t":65.8,"v":5.4},{"s":9,"t":70,"v":6.3},{"s":9,"t":77,"v":7.15},{"s":9,"t":86,"v":4.9},{"s":9,"t":100,"v":6.25},{"s":9,"t":112,"v":4.95},{"s":9,"t":125,"v":6.05},{"s":9,"t":138,"v":4.9},{"s":9,"t":150,"v":5.5},{"s":9,"t":162,"v":4.8},{"s":9,"t":174,"v":5.3},{"s":9,"t":186,"v":4.8},{"s":9,"t":198,"v":5.15},{"s":9,"t":210,"v":4.75},{"s":9,"t":222,"v":5.0},{"s":9,"t":232,"v":4.75},
{"s":10,"t":0,"v":6.5},{"s":10,"t":6,"v":7.6},{"s":10,"t":12,"v":6.3},{"s":10,"t":19,"v":5.3},{"s":10,"t":25,"v":5.9},{"s":10,"t":31,"v":6.6},{"s":10,"t":36,"v":6.0},{"s":10,"t":44,"v":4.9},{"s":10,"t":50,"v":5.8},{"s":10,"t":55,"v":6.6},{"s":10,"t":60,"v":5.8},{"s":10,"t":64.3,"v":4.75},{"s":10,"t":66,"v":5.1},{"s":10,"t":73,"v":5.6},{"s":10,"t":80,"v":6.85},{"s":10,"t":90,"v":4.65},{"s":10,"t":102,"v":5.4},{"s":10,"t":114,"v":4.65},{"s":10,"t":126,"v":5.2},{"s":10,"t":138,"v":4.6},{"s":10,"t":150,"v":5.2},{"s":10,"t":162,"v":4.6},{"s":10,"t":174,"v":5.0},{"s":10,"t":186,"v":4.55},{"s":10,"t":198,"v":4.9},{"s":10,"t":210,"v":4.55},{"s":10,"t":222,"v":4.8},{"s":10,"t":232,"v":4.55},
{"s":11,"t":0,"v":7.8},{"s":11,"t":8,"v":9.25},{"s":11,"t":13,"v":8.0},{"s":11,"t":20,"v":5.6},{"s":11,"t":25,"v":6.8},{"s":11,"t":31,"v":9.0},{"s":11,"t":36,"v":7.5},{"s":11,"t":42,"v":5.1},{"s":11,"t":48,"v":6.8},{"s":11,"t":54,"v":8.45},{"s":11,"t":59,"v":7.0},{"s":11,"t":64.3,"v":4.8},{"s":11,"t":65.8,"v":5.1},{"s":11,"t":72,"v":5.3},{"s":11,"t":81,"v":5.85},{"s":11,"t":92,"v":4.7},{"s":11,"t":104,"v":5.5},{"s":11,"t":116,"v":4.7},{"s":11,"t":129,"v":5.3},{"s":11,"t":141,"v":4.7},{"s":11,"t":152,"v":5.3},{"s":11,"t":164,"v":4.75},{"s":11,"t":175,"v":5.15},{"s":11,"t":188,"v":4.7},{"s":11,"t":198,"v":5.1},{"s":11,"t":210,"v":4.7},{"s":11,"t":220,"v":5.05},{"s":11,"t":232,"v":4.8}
],
"d":[
{"s":1,"t":0,"v":1.1},{"s":1,"t":2,"v":1.4},{"s":1,"t":5,"v":1.6},{"s":1,"t":8,"v":1.3},{"s":1,"t":11,"v":0.84},{"s":1,"t":14,"v":0.63},{"s":1,"t":18,"v":0.58},{"s":1,"t":21,"v":0.55},{"s":1,"t":24,"v":0.88},{"s":1,"t":27,"v":1.6},{"s":1,"t":30,"v":1.49},{"s":1,"t":33,"v":0.99},{"s":1,"t":36,"v":0.66},{"s":1,"t":39,"v":0.55},{"s":1,"t":42,"v":0.71},{"s":1,"t":45,"v":1.04},{"s":1,"t":48,"v":1.2},{"s":1,"t":51,"v":0.94},{"s":1,"t":54,"v":0.68},{"s":1,"t":57,"v":0.56},{"s":1,"t":60,"v":0.72},{"s":1,"t":63,"v":0.99},{"s":1,"t":66,"v":1.1},{"s":1,"t":69,"v":0.88},{"s":1,"t":72,"v":0.66},{"s":1,"t":74.5,"v":0.58},
{"s":2,"t":0,"v":1.2},{"s":2,"t":2,"v":1.54},{"s":2,"t":5,"v":1.8},{"s":2,"t":8,"v":1.46},{"s":2,"t":11,"v":0.94},{"s":2,"t":14,"v":0.7},{"s":2,"t":18,"v":0.64},{"s":2,"t":21,"v":0.6},{"s":2,"t":24,"v":0.96},{"s":2,"t":27,"v":1.74},{"s":2,"t":30,"v":1.62},{"s":2,"t":33,"v":1.08},{"s":2,"t":36,"v":0.72},{"s":2,"t":39,"v":0.6},{"s":2,"t":42,"v":0.78},{"s":2,"t":45,"v":1.13},{"s":2,"t":48,"v":1.3},{"s":2,"t":51,"v":1.02},{"s":2,"t":54,"v":0.74},{"s":2,"t":57,"v":0.61},{"s":2,"t":60,"v":0.78},{"s":2,"t":63,"v":1.08},{"s":2,"t":66,"v":1.2},{"s":2,"t":69,"v":0.96},{"s":2,"t":72,"v":0.72},{"s":2,"t":74.5,"v":0.63},
{"s":3,"t":0,"v":1.5},{"s":3,"t":2,"v":1.95},{"s":3,"t":5,"v":2.3},{"s":3,"t":8,"v":1.85},{"s":3,"t":11,"v":1.15},{"s":3,"t":14,"v":0.83},{"s":3,"t":18,"v":0.75},{"s":3,"t":21,"v":0.7},{"s":3,"t":24,"v":1.15},{"s":3,"t":27,"v":2.13},{"s":3,"t":30,"v":1.98},{"s":3,"t":33,"v":1.3},{"s":3,"t":36,"v":0.85},{"s":3,"t":39,"v":0.7},{"s":3,"t":42,"v":1.0},{"s":3,"t":45,"v":1.6},{"s":3,"t":48,"v":1.9},{"s":3,"t":51,"v":1.42},{"s":3,"t":54,"v":0.94},{"s":3,"t":57,"v":0.72},{"s":3,"t":60,"v":1.03},{"s":3,"t":63,"v":1.58},{"s":3,"t":66,"v":1.8},{"s":3,"t":69,"v":1.36},{"s":3,"t":72,"v":0.92},{"s":3,"t":74.5,"v":0.76},
{"s":4,"t":0,"v":2.55},{"s":4,"t":2,"v":3.5},{"s":4,"t":5,"v":4.25},{"s":4,"t":8,"v":3.3},{"s":4,"t":11,"v":1.8},{"s":4,"t":14,"v":1.12},{"s":4,"t":18,"v":0.95},{"s":4,"t":21,"v":0.85},{"s":4,"t":24,"v":1.45},{"s":4,"t":27,"v":2.75},{"s":4,"t":30,"v":2.55},{"s":4,"t":33,"v":1.65},{"s":4,"t":36,"v":1.05},{"s":4,"t":39,"v":0.85},{"s":4,"t":42,"v":1.25},{"s":4,"t":45,"v":2.05},{"s":4,"t":48,"v":2.45},{"s":4,"t":51,"v":1.81},{"s":4,"t":54,"v":1.17},{"s":4,"t":57,"v":0.88},{"s":4,"t":60,"v":1.21},{"s":4,"t":63,"v":1.81},{"s":4,"t":66,"v":2.05},{"s":4,"t":69,"v":1.57},{"s":4,"t":72,"v":1.09},{"s":4,"t":74.5,"v":0.91},
{"s":5,"t":0,"v":3.0},{"s":5,"t":2,"v":4.18},{"s":5,"t":5,"v":5.1},{"s":5,"t":8,"v":3.92},{"s":5,"t":11,"v":2.08},{"s":5,"t":14,"v":1.24},{"s":5,"t":18,"v":1.03},{"s":5,"t":21,"v":0.9},{"s":5,"t":24,"v":2.13},{"s":5,"t":27,"v":4.8},{"s":5,"t":30,"v":4.39},{"s":5,"t":33,"v":2.54},{"s":5,"t":36,"v":1.31},{"s":5,"t":39,"v":0.9},{"s":5,"t":42,"v":1.55},{"s":5,"t":45,"v":2.85},{"s":5,"t":48,"v":3.5},{"s":5,"t":51,"v":2.46},{"s":5,"t":54,"v":1.42},{"s":5,"t":57,"v":0.95},{"s":5,"t":60,"v":1.47},{"s":5,"t":63,"v":2.42},{"s":5,"t":66,"v":2.8},{"s":5,"t":69,"v":2.04},{"s":5,"t":72,"v":1.28},{"s":5,"t":74.5,"v":1.0},
{"s":6,"t":0,"v":3.5},{"s":6,"t":2,"v":4.84},{"s":6,"t":5,"v":5.9},{"s":6,"t":8,"v":4.56},{"s":6,"t":11,"v":2.44},{"s":6,"t":14,"v":1.48},{"s":6,"t":18,"v":1.25},{"s":6,"t":21,"v":1.1},{"s":6,"t":24,"v":2.18},{"s":6,"t":27,"v":4.52},{"s":6,"t":30,"v":4.16},{"s":6,"t":33,"v":2.54},{"s":6,"t":36,"v":1.46},{"s":6,"t":39,"v":1.05},{"s":6,"t":42,"v":1.85},{"s":6,"t":45,"v":3.35},{"s":6,"t":48,"v":4.1},{"s":6,"t":51,"v":2.9},{"s":6,"t":54,"v":1.7},{"s":6,"t":57,"v":1.15},{"s":6,"t":60,"v":1.7},{"s":6,"t":63,"v":2.7},{"s":6,"t":66,"v":3.1},{"s":6,"t":69,"v":2.3},{"s":6,"t":72,"v":1.5},{"s":6,"t":74.5,"v":1.2},
{"s":7,"t":0,"v":4.0},{"s":7,"t":2,"v":5.6},{"s":7,"t":5,"v":6.3},{"s":7,"t":8,"v":5.6},{"s":7,"t":11,"v":2.5},{"s":7,"t":14,"v":1.42},{"s":7,"t":18,"v":1.16},{"s":7,"t":21,"v":1.0},{"s":7,"t":24,"v":2.05},{"s":7,"t":27,"v":4.33},{"s":7,"t":30,"v":3.98},{"s":7,"t":33,"v":2.4},{"s":7,"t":36,"v":1.35},{"s":7,"t":39,"v":0.95},{"s":7,"t":42,"v":1.58},{"s":7,"t":45,"v":2.73},{"s":7,"t":48,"v":3.3},{"s":7,"t":51,"v":2.38},{"s":7,"t":54,"v":1.46},{"s":7,"t":57,"v":1.05},{"s":7,"t":60,"v":1.6},{"s":7,"t":63,"v":2.6},{"s":7,"t":66,"v":3.0},{"s":7,"t":69,"v":2.2},{"s":7,"t":72,"v":1.4},{"s":7,"t":74.5,"v":1.1},
{"s":8,"t":0,"v":4.5},{"s":8,"t":2,"v":6.6},{"s":8,"t":5,"v":8.15},{"s":8,"t":8,"v":6.19},{"s":8,"t":11,"v":3.11},{"s":8,"t":14,"v":1.71},{"s":8,"t":18,"v":1.36},{"s":8,"t":21,"v":1.15},{"s":8,"t":24,"v":2.62},{"s":8,"t":27,"v":5.8},{"s":8,"t":30,"v":5.3},{"s":8,"t":33,"v":3.1},{"s":8,"t":36,"v":1.64},{"s":8,"t":39,"v":1.1},{"s":8,"t":42,"v":1.93},{"s":8,"t":45,"v":3.48},{"s":8,"t":48,"v":4.25},{"s":8,"t":51,"v":3.0},{"s":8,"t":54,"v":1.77},{"s":8,"t":57,"v":1.2},{"s":8,"t":60,"v":1.9},{"s":8,"t":63,"v":3.15},{"s":8,"t":66,"v":3.65},{"s":8,"t":69,"v":2.65},{"s":8,"t":72,"v":1.65},{"s":8,"t":74.5,"v":1.28},
{"s":9,"t":0,"v":6.0},{"s":9,"t":2,"v":8.0},{"s":9,"t":5,"v":9.9},{"s":9,"t":8,"v":7.5},{"s":9,"t":11,"v":3.7},{"s":9,"t":14,"v":1.99},{"s":9,"t":18,"v":1.56},{"s":9,"t":21,"v":1.3},{"s":9,"t":24,"v":3.0},{"s":9,"t":27,"v":6.6},{"s":9,"t":30,"v":6.1},{"s":9,"t":33,"v":3.5},{"s":9,"t":36,"v":1.86},{"s":9,"t":39,"v":1.2},{"s":9,"t":42,"v":2.1},{"s":9,"t":45,"v":3.7},{"s":9,"t":48,"v":4.5},{"s":9,"t":51,"v":3.2},{"s":9,"t":54,"v":1.9},{"s":9,"t":57,"v":1.35},{"s":9,"t":60,"v":2.0},{"s":9,"t":63,"v":3.2},{"s":9,"t":66,"v":3.7},{"s":9,"t":69,"v":2.7},{"s":9,"t":72,"v":1.8},{"s":9,"t":74.5,"v":1.4},
{"s":10,"t":0,"v":2.2},{"s":10,"t":2,"v":3.01},{"s":10,"t":5,"v":3.65},{"s":10,"t":8,"v":2.84},{"s":10,"t":11,"v":1.56},{"s":10,"t":14,"v":0.98},{"s":10,"t":18,"v":0.84},{"s":10,"t":21,"v":0.75},{"s":10,"t":24,"v":1.5},{"s":10,"t":27,"v":3.13},{"s":10,"t":30,"v":2.88},{"s":10,"t":33,"v":1.75},{"s":10,"t":36,"v":1.0},{"s":10,"t":39,"v":0.75},{"s":10,"t":42,"v":1.08},{"s":10,"t":45,"v":1.73},{"s":10,"t":48,"v":2.05},{"s":10,"t":51,"v":1.53},{"s":10,"t":54,"v":1.01},{"s":10,"t":57,"v":0.78},{"s":10,"t":60,"v":1.11},{"s":10,"t":63,"v":1.71},{"s":10,"t":66,"v":1.95},{"s":10,"t":69,"v":1.47},{"s":10,"t":72,"v":0.99},{"s":10,"t":74.5,"v":0.81},
{"s":11,"t":0,"v":2.9},{"s":11,"t":2,"v":3.69},{"s":11,"t":5,"v":4.5},{"s":11,"t":8,"v":3.46},{"s":11,"t":11,"v":1.84},{"s":11,"t":14,"v":1.1},{"s":11,"t":18,"v":0.91},{"s":11,"t":21,"v":0.8},{"s":11,"t":24,"v":1.76},{"s":11,"t":27,"v":3.84},{"s":11,"t":30,"v":3.52},{"s":11,"t":33,"v":2.08},{"s":11,"t":36,"v":1.12},{"s":11,"t":39,"v":0.8},{"s":11,"t":42,"v":1.4},{"s":11,"t":45,"v":2.6},{"s":11,"t":48,"v":3.2},{"s":11,"t":51,"v":2.24},{"s":11,"t":54,"v":1.28},{"s":11,"t":57,"v":0.85},{"s":11,"t":60,"v":1.31},{"s":11,"t":63,"v":2.16},{"s":11,"t":66,"v":2.5},{"s":11,"t":69,"v":1.82},{"s":11,"t":72,"v":1.14},{"s":11,"t":74.5,"v":0.89}
],
"e":[
{"s":1,"t":0,"v":0.9},{"s":1,"t":1,"v":0.8},{"s":1,"t":2,"v":0.72},{"s":1,"t":4,"v":0.65},{"s":1,"t":6,"v":0.62},{"s":1,"t":8,"v":0.7},{"s":1,"t":10,"v":0.8},{"s":1,"t":13,"v":0.75},{"s":1,"t":16,"v":0.7},{"s":1,"t":20,"v":0.65},{"s":1,"t":24,"v":0.6},{"s":1,"t":28,"v":0.56},{"s":1,"t":32,"v":0.58},{"s":1,"t":36,"v":0.6},{"s":1,"t":40,"v":0.57},{"s":1,"t":44,"v":0.55},{"s":1,"t":48,"v":0.55},{"s":1,"t":52,"v":0.56},{"s":1,"t":56,"v":0.55},{"s":1,"t":60,"v":0.57},{"s":1,"t":64,"v":0.55},{"s":1,"t":68,"v":0.54},{"s":1,"t":72,"v":0.56},{"s":1,"t":75,"v":0.56},
{"s":2,"t":0,"v":1.1},{"s":2,"t":1,"v":1.0},{"s":2,"t":2,"v":0.9},{"s":2,"t":4,"v":0.78},{"s":2,"t":6,"v":0.7},{"s":2,"t":8,"v":0.66},{"s":2,"t":10,"v":0.7},{"s":2,"t":13,"v":0.72},{"s":2,"t":16,"v":0.68},{"s":2,"t":20,"v":0.66},{"s":2,"t":24,"v":0.7},{"s":2,"t":28,"v":0.68},{"s":2,"t":32,"v":0.65},{"s":2,"t":36,"v":0.68},{"s":2,"t":40,"v":0.66},{"s":2,"t":44,"v":0.7},{"s":2,"t":48,"v":0.68},{"s":2,"t":52,"v":0.65},{"s":2,"t":56,"v":0.68},{"s":2,"t":60,"v":0.7},{"s":2,"t":64,"v":0.68},{"s":2,"t":68,"v":0.72},{"s":2,"t":72,"v":0.7},{"s":2,"t":75,"v":0.72},
{"s":3,"t":0,"v":1.8},{"s":3,"t":1,"v":1.75},{"s":3,"t":2,"v":1.55},{"s":3,"t":4,"v":1.2},{"s":3,"t":6,"v":0.95},{"s":3,"t":8,"v":0.8},{"s":3,"t":10,"v":0.72},{"s":3,"t":13,"v":0.65},{"s":3,"t":16,"v":0.58},{"s":3,"t":20,"v":0.52},{"s":3,"t":24,"v":0.53},{"s":3,"t":28,"v":0.55},{"s":3,"t":32,"v":0.6},{"s":3,"t":36,"v":0.62},{"s":3,"t":40,"v":0.58},{"s":3,"t":44,"v":0.55},{"s":3,"t":48,"v":0.6},{"s":3,"t":52,"v":0.65},{"s":3,"t":56,"v":0.6},{"s":3,"t":60,"v":0.58},{"s":3,"t":64,"v":0.62},{"s":3,"t":68,"v":0.6},{"s":3,"t":72,"v":0.68},{"s":3,"t":75,"v":0.75},
{"s":4,"t":0,"v":1.75},{"s":4,"t":1,"v":1.9},{"s":4,"t":2,"v":1.88},{"s":4,"t":4,"v":1.65},{"s":4,"t":6,"v":1.35},{"s":4,"t":8,"v":1.1},{"s":4,"t":10,"v":1.0},{"s":4,"t":13,"v":0.95},{"s":4,"t":16,"v":0.98},{"s":4,"t":20,"v":0.9},{"s":4,"t":24,"v":0.85},{"s":4,"t":28,"v":0.88},{"s":4,"t":32,"v":0.82},{"s":4,"t":36,"v":0.86},{"s":4,"t":40,"v":0.8},{"s":4,"t":44,"v":0.84},{"s":4,"t":48,"v":0.82},{"s":4,"t":52,"v":0.86},{"s":4,"t":56,"v":0.8},{"s":4,"t":60,"v":0.83},{"s":4,"t":64,"v":0.85},{"s":4,"t":68,"v":0.8},{"s":4,"t":72,"v":0.82},{"s":4,"t":75,"v":0.84},
{"s":5,"t":0,"v":2.5},{"s":5,"t":1,"v":2.3},{"s":5,"t":2,"v":2.0},{"s":5,"t":4,"v":1.6},{"s":5,"t":6,"v":1.3},{"s":5,"t":8,"v":1.1},{"s":5,"t":10,"v":0.98},{"s":5,"t":13,"v":0.95},{"s":5,"t":16,"v":0.9},{"s":5,"t":20,"v":0.88},{"s":5,"t":24,"v":0.92},{"s":5,"t":28,"v":0.86},{"s":5,"t":32,"v":0.9},{"s":5,"t":36,"v":0.95},{"s":5,"t":40,"v":0.88},{"s":5,"t":44,"v":0.92},{"s":5,"t":48,"v":0.95},{"s":5,"t":52,"v":0.9},{"s":5,"t":56,"v":0.93},{"s":5,"t":60,"v":0.97},{"s":5,"t":64,"v":0.92},{"s":5,"t":68,"v":0.9},{"s":5,"t":72,"v":0.95},{"s":5,"t":75,"v":0.92},
{"s":6,"t":0,"v":1.7},{"s":6,"t":1,"v":1.55},{"s":6,"t":2,"v":1.35},{"s":6,"t":4,"v":1.1},{"s":6,"t":6,"v":0.95},{"s":6,"t":8,"v":0.88},{"s":6,"t":10,"v":0.85},{"s":6,"t":13,"v":0.88},{"s":6,"t":16,"v":0.9},{"s":6,"t":20,"v":0.92},{"s":6,"t":24,"v":0.95},{"s":6,"t":28,"v":0.9},{"s":6,"t":32,"v":0.95},{"s":6,"t":36,"v":0.98},{"s":6,"t":40,"v":0.93},{"s":6,"t":44,"v":0.96},{"s":6,"t":48,"v":1.0},{"s":6,"t":52,"v":0.95},{"s":6,"t":56,"v":0.92},{"s":6,"t":60,"v":0.95},{"s":6,"t":64,"v":0.9},{"s":6,"t":68,"v":0.88},{"s":6,"t":72,"v":0.85},{"s":6,"t":75,"v":0.82},
{"s":7,"t":0,"v":1.5},{"s":7,"t":1,"v":1.45},{"s":7,"t":2,"v":1.35},{"s":7,"t":4,"v":1.2},{"s":7,"t":6,"v":1.1},{"s":7,"t":8,"v":1.05},{"s":7,"t":10,"v":1.0},{"s":7,"t":13,"v":1.02},{"s":7,"t":16,"v":0.98},{"s":7,"t":20,"v":0.95},{"s":7,"t":24,"v":0.98},{"s":7,"t":28,"v":1.0},{"s":7,"t":32,"v":0.95},{"s":7,"t":36,"v":0.98},{"s":7,"t":40,"v":1.02},{"s":7,"t":44,"v":1.0},{"s":7,"t":48,"v":1.05},{"s":7,"t":52,"v":1.02},{"s":7,"t":56,"v":1.08},{"s":7,"t":60,"v":1.12},{"s":7,"t":64,"v":1.15},{"s":7,"t":68,"v":1.18},{"s":7,"t":72,"v":1.2},{"s":7,"t":75,"v":1.2},
{"s":8,"t":0,"v":2.15},{"s":8,"t":1,"v":1.9},{"s":8,"t":2,"v":1.65},{"s":8,"t":4,"v":1.35},{"s":8,"t":6,"v":1.15},{"s":8,"t":8,"v":1.0},{"s":8,"t":10,"v":0.92},{"s":8,"t":13,"v":0.9},{"s":8,"t":16,"v":0.85},{"s":8,"t":20,"v":0.8},{"s":8,"t":24,"v":0.78},{"s":8,"t":28,"v":0.83},{"s":8,"t":32,"v":0.8},{"s":8,"t":36,"v":0.85},{"s":8,"t":40,"v":0.9},{"s":8,"t":44,"v":0.87},{"s":8,"t":48,"v":0.85},{"s":8,"t":52,"v":0.9},{"s":8,"t":56,"v":0.95},{"s":8,"t":60,"v":0.9},{"s":8,"t":64,"v":0.93},{"s":8,"t":68,"v":0.97},{"s":8,"t":72,"v":0.95},{"s":8,"t":75,"v":0.96},
{"s":9,"t":0,"v":1.2},{"s":9,"t":1,"v":1.15},{"s":9,"t":2,"v":1.1},{"s":9,"t":4,"v":1.0},{"s":9,"t":6,"v":0.95},{"s":9,"t":8,"v":0.92},{"s":9,"t":10,"v":0.9},{"s":9,"t":13,"v":0.95},{"s":9,"t":16,"v":1.02},{"s":9,"t":20,"v":1.05},{"s":9,"t":24,"v":1.0},{"s":9,"t":28,"v":1.08},{"s":9,"t":32,"v":1.05},{"s":9,"t":36,"v":1.1},{"s":9,"t":40,"v":1.05},{"s":9,"t":44,"v":1.08},{"s":9,"t":48,"v":1.12},{"s":9,"t":52,"v":1.05},{"s":9,"t":56,"v":1.1},{"s":9,"t":60,"v":1.15},{"s":9,"t":64,"v":1.08},{"s":9,"t":68,"v":1.12},{"s":9,"t":72,"v":1.1},{"s":9,"t":75,"v":1.18},
{"s":10,"t":0,"v":1.87},{"s":10,"t":1,"v":1.75},{"s":10,"t":2,"v":1.65},{"s":10,"t":4,"v":1.55},{"s":10,"t":6,"v":1.52},{"s":10,"t":8,"v":1.5},{"s":10,"t":10,"v":1.45},{"s":10,"t":13,"v":1.3},{"s":10,"t":16,"v":1.27},{"s":10,"t":20,"v":1.28},{"s":10,"t":24,"v":1.15},{"s":10,"t":28,"v":1.07},{"s":10,"t":32,"v":1.12},{"s":10,"t":36,"v":1.15},{"s":10,"t":40,"v":1.12},{"s":10,"t":44,"v":1.08},{"s":10,"t":48,"v":1.1},{"s":10,"t":52,"v":1.15},{"s":10,"t":56,"v":1.12},{"s":10,"t":60,"v":1.17},{"s":10,"t":64,"v":1.2},{"s":10,"t":68,"v":1.25},{"s":10,"t":72,"v":1.2},{"s":10,"t":75,"v":1.26},
{"s":11,"t":0,"v":1.4},{"s":11,"t":1,"v":1.3},{"s":11,"t":2,"v":1.2},{"s":11,"t":4,"v":1.0},{"s":11,"t":6,"v":0.88},{"s":11,"t":8,"v":0.8},{"s":11,"t":10,"v":0.78},{"s":11,"t":13,"v":0.82},{"s":11,"t":16,"v":0.8},{"s":11,"t":20,"v":0.85},{"s":11,"t":24,"v":0.8},{"s":11,"t":28,"v":0.82},{"s":11,"t":32,"v":0.85},{"s":11,"t":36,"v":0.8},{"s":11,"t":40,"v":0.83},{"s":11,"t":44,"v":0.8},{"s":11,"t":48,"v":0.78},{"s":11,"t":52,"v":0.82},{"s":11,"t":56,"v":0.8},{"s":11,"t":60,"v":0.78},{"s":11,"t":64,"v":0.8},{"s":11,"t":68,"v":0.82},{"s":11,"t":72,"v":0.8},{"s":11,"t":75,"v":0.78},
{"s":12,"t":0,"v":1.55},{"s":12,"t":1,"v":1.4},{"s":12,"t":2,"v":1.32},{"s":12,"t":4,"v":1.25},{"s":12,"t":6,"v":1.22},{"s":12,"t":8,"v":1.05},{"s":12,"t":10,"v":0.85},{"s":12,"t":13,"v":0.8},{"s":12,"t":16,"v":0.8},{"s":12,"t":20,"v":0.78},{"s":12,"t":24,"v":0.75},{"s":12,"t":28,"v":0.72},{"s":12,"t":32,"v":0.7},{"s":12,"t":36,"v":0.72},{"s":12,"t":40,"v":0.7},{"s":12,"t":44,"v":0.73},{"s":12,"t":48,"v":0.75},{"s":12,"t":52,"v":0.7},{"s":12,"t":56,"v":0.72},{"s":12,"t":60,"v":0.74},{"s":12,"t":64,"v":0.7},{"s":12,"t":68,"v":0.68},{"s":12,"t":72,"v":0.66},{"s":12,"t":75,"v":0.65}
],
"f":[
{"s":1,"t":0,"v":5.0},{"s":1,"t":2.5,"v":5.31},{"s":1,"t":5,"v":5.63},{"s":1,"t":7,"v":5.8},{"s":1,"t":9.5,"v":5.59},{"s":1,"t":12,"v":5.28},{"s":1,"t":16,"v":5.0},{"s":1,"t":20,"v":4.85},{"s":1,"t":24,"v":4.85},{"s":1,"t":27.5,"v":5.37},{"s":1,"t":30,"v":5.8},{"s":1,"t":32.5,"v":5.42},{"s":1,"t":35,"v":5.04},{"s":1,"t":39,"v":4.85},{"s":1,"t":43,"v":4.8},{"s":1,"t":47,"v":4.75},{"s":1,"t":50.5,"v":5.28},{"s":1,"t":53,"v":5.7},{"s":1,"t":55.5,"v":5.28},{"s":1,"t":58,"v":4.86},{"s":1,"t":64,"v":4.6},{"s":1,"t":65.8,"v":4.95},{"s":1,"t":70,"v":4.85},{"s":1,"t":80,"v":4.78},{"s":1,"t":92,"v":4.75},{"s":1,"t":104,"v":4.7},{"s":1,"t":120,"v":4.68},{"s":1,"t":150,"v":4.62},{"s":1,"t":168,"v":4.7},{"s":1,"t":180,"v":4.62},{"s":1,"t":210,"v":4.62},{"s":1,"t":215,"v":4.72},{"s":1,"t":232,"v":4.62},
{"s":2,"t":0,"v":5.24},{"s":2,"t":2.5,"v":5.68},{"s":2,"t":5,"v":6.46},{"s":2,"t":7,"v":6.9},{"s":2,"t":9.5,"v":6.38},{"s":2,"t":12,"v":5.59},{"s":2,"t":16,"v":5.24},{"s":2,"t":20,"v":5.19},{"s":2,"t":24,"v":4.97},{"s":2,"t":27.5,"v":5.67},{"s":2,"t":30,"v":6.3},{"s":2,"t":32.5,"v":5.74},{"s":2,"t":35,"v":5.18},{"s":2,"t":39,"v":4.97},{"s":2,"t":43,"v":4.9},{"s":2,"t":47,"v":4.85},{"s":2,"t":50.5,"v":5.6},{"s":2,"t":53,"v":6.2},{"s":2,"t":55.5,"v":5.6},{"s":2,"t":58,"v":5.0},{"s":2,"t":64,"v":4.58},{"s":2,"t":65.8,"v":5.1},{"s":2,"t":70,"v":4.95},{"s":2,"t":80,"v":4.85},{"s":2,"t":92,"v":4.78},{"s":2,"t":104,"v":4.72},{"s":2,"t":120,"v":4.68},{"s":2,"t":144,"v":4.6},{"s":2,"t":168,"v":4.58},{"s":2,"t":192,"v":4.55},{"s":2,"t":232,"v":4.52},
{"s":3,"t":0,"v":5.36},{"s":3,"t":2.5,"v":5.66},{"s":3,"t":5,"v":6.2},{"s":3,"t":7,"v":6.5},{"s":3,"t":9.5,"v":6.14},{"s":3,"t":12,"v":5.6},{"s":3,"t":16,"v":5.36},{"s":3,"t":20,"v":5.32},{"s":3,"t":24,"v":5.12},{"s":3,"t":27.5,"v":5.85},{"s":3,"t":30,"v":6.5},{"s":3,"t":32.5,"v":5.92},{"s":3,"t":35,"v":5.34},{"s":3,"t":39,"v":5.12},{"s":3,"t":43,"v":5.05},{"s":3,"t":47,"v":5.08},{"s":3,"t":50.5,"v":6.23},{"s":3,"t":53,"v":7.15},{"s":3,"t":55.5,"v":6.23},{"s":3,"t":58,"v":5.31},{"s":3,"t":64,"v":4.7},{"s":3,"t":65.8,"v":5.5},{"s":3,"t":70,"v":5.25},{"s":3,"t":80,"v":5.1},{"s":3,"t":92,"v":5.0},{"s":3,"t":104,"v":4.95},{"s":3,"t":112,"v":5.0},{"s":3,"t":120,"v":4.9},{"s":3,"t":135,"v":4.95},{"s":3,"t":150,"v":4.8},{"s":3,"t":168,"v":4.75},{"s":3,"t":192,"v":4.7},{"s":3,"t":232,"v":4.65},
{"s":4,"t":0,"v":5.29},{"s":4,"t":2.5,"v":5.74},{"s":4,"t":5,"v":6.55},{"s":4,"t":7,"v":7.0},{"s":4,"t":9.5,"v":6.46},{"s":4,"t":12,"v":5.65},{"s":4,"t":16,"v":5.29},{"s":4,"t":20,"v":5.24},{"s":4,"t":24,"v":5.05},{"s":4,"t":27.5,"v":6.08},{"s":4,"t":30,"v":7.0},{"s":4,"t":32.5,"v":6.18},{"s":4,"t":35,"v":5.36},{"s":4,"t":39,"v":5.05},{"s":4,"t":43,"v":4.95},{"s":4,"t":47,"v":4.94},{"s":4,"t":50.5,"v":5.86},{"s":4,"t":53,"v":6.6},{"s":4,"t":55.5,"v":5.86},{"s":4,"t":58,"v":5.12},{"s":4,"t":64,"v":4.6},{"s":4,"t":65.8,"v":5.3},{"s":4,"t":70,"v":5.15},{"s":4,"t":80,"v":5.05},{"s":4,"t":91,"v":5.32},{"s":4,"t":100,"v":4.95},{"s":4,"t":112,"v":4.95},{"s":4,"t":125,"v":4.85},{"s":4,"t":140,"v":4.8},{"s":4,"t":150,"v":4.9},{"s":4,"t":168,"v":4.75},{"s":4,"t":192,"v":4.72},{"s":4,"t":210,"v":4.8},{"s":4,"t":232,"v":4.7},
{"s":5,"t":0,"v":5.44},{"s":5,"t":2.5,"v":6.11},{"s":5,"t":5,"v":7.33},{"s":5,"t":7,"v":8.0},{"s":5,"t":9.5,"v":7.19},{"s":5,"t":12,"v":5.98},{"s":5,"t":16,"v":5.44},{"s":5,"t":20,"v":5.35},{"s":5,"t":24,"v":5.17},{"s":5,"t":27.5,"v":6.37},{"s":5,"t":30,"v":7.45},{"s":5,"t":32.5,"v":6.49},{"s":5,"t":35,"v":5.53},{"s":5,"t":39,"v":5.17},{"s":5,"t":43,"v":5.25},{"s":5,"t":47,"v":5.07},{"s":5,"t":50.5,"v":6.14},{"s":5,"t":53,"v":7.0},{"s":5,"t":55.5,"v":6.14},{"s":5,"t":58,"v":5.28},{"s":5,"t":64,"v":4.68},{"s":5,"t":65.8,"v":5.4},{"s":5,"t":70,"v":5.2},{"s":5,"t":80,"v":5.0},{"s":5,"t":92,"v":4.9},{"s":5,"t":104,"v":4.85},{"s":5,"t":120,"v":4.75},{"s":5,"t":144,"v":4.65},{"s":5,"t":168,"v":4.6},{"s":5,"t":192,"v":4.55},{"s":5,"t":232,"v":4.52},
{"s":6,"t":0,"v":5.46},{"s":6,"t":2.5,"v":6.26},{"s":6,"t":5,"v":7.7},{"s":6,"t":7,"v":8.5},{"s":6,"t":9.5,"v":7.54},{"s":6,"t":12,"v":6.1},{"s":6,"t":16,"v":5.46},{"s":6,"t":20,"v":5.36},{"s":6,"t":24,"v":5.18},{"s":6,"t":27.5,"v":6.45},{"s":6,"t":30,"v":7.6},{"s":6,"t":32.5,"v":6.58},{"s":6,"t":35,"v":5.56},{"s":6,"t":39,"v":5.18},{"s":6,"t":43,"v":5.05},{"s":6,"t":47,"v":5.1},{"s":6,"t":50.5,"v":6.32},{"s":6,"t":53,"v":7.3},{"s":6,"t":55.5,"v":6.32},{"s":6,"t":58,"v":5.34},{"s":6,"t":64,"v":4.7},{"s":6,"t":65.8,"v":5.5},{"s":6,"t":70,"v":5.3},{"s":6,"t":80,"v":5.1},{"s":6,"t":92,"v":5.0},{"s":6,"t":104,"v":4.95},{"s":6,"t":120,"v":4.85},{"s":6,"t":136,"v":4.95},{"s":6,"t":150,"v":4.75},{"s":6,"t":168,"v":4.7},{"s":6,"t":192,"v":4.65},{"s":6,"t":232,"v":4.65},
{"s":7,"t":0,"v":5.38},{"s":7,"t":2.5,"v":6.28},{"s":7,"t":5,"v":7.9},{"s":7,"t":7,"v":8.8},{"s":7,"t":9.5,"v":7.72},{"s":7,"t":12,"v":6.1},{"s":7,"t":16,"v":5.38},{"s":7,"t":20,"v":5.27},{"s":7,"t":24,"v":5.09},{"s":7,"t":27.5,"v":6.52},{"s":7,"t":30,"v":7.8},{"s":7,"t":32.5,"v":6.66},{"s":7,"t":35,"v":5.52},{"s":7,"t":39,"v":5.09},{"s":7,"t":43,"v":4.95},{"s":7,"t":47,"v":5.03},{"s":7,"t":50.5,"v":6.4},{"s":7,"t":53,"v":7.5},{"s":7,"t":55.5,"v":6.4},{"s":7,"t":58,"v":5.3},{"s":7,"t":64,"v":4.6},{"s":7,"t":65.8,"v":5.5},{"s":7,"t":68,"v":5.2},{"s":7,"t":75,"v":4.95},{"s":7,"t":85,"v":4.85},{"s":7,"t":100,"v":4.75},{"s":7,"t":120,"v":4.7},{"s":7,"t":144,"v":4.65},{"s":7,"t":168,"v":4.6},{"s":7,"t":192,"v":4.58},{"s":7,"t":232,"v":4.55},
{"s":8,"t":0,"v":5.55},{"s":8,"t":2.5,"v":6.27},{"s":8,"t":5,"v":7.58},{"s":8,"t":7,"v":8.3},{"s":8,"t":9.5,"v":7.43},{"s":8,"t":12,"v":6.13},{"s":8,"t":16,"v":5.55},{"s":8,"t":20,"v":5.46},{"s":8,"t":24,"v":5.7},{"s":8,"t":27.5,"v":6.39},{"s":8,"t":30,"v":7.4},{"s":8,"t":32.5,"v":6.5},{"s":8,"t":35,"v":5.6},{"s":8,"t":39,"v":5.26},{"s":8,"t":43,"v":5.15},{"s":8,"t":47,"v":5.24},{"s":8,"t":50.5,"v":6.66},{"s":8,"t":53,"v":7.8},{"s":8,"t":55.5,"v":6.66},{"s":8,"t":58,"v":5.52},{"s":8,"t":64,"v":4.75},{"s":8,"t":65.8,"v":5.6},{"s":8,"t":68,"v":5.35},{"s":8,"t":75,"v":5.25},{"s":8,"t":85,"v":5.05},{"s":8,"t":95,"v":5.05},{"s":8,"t":104,"v":4.95},{"s":8,"t":116,"v":5.05},{"s":8,"t":128,"v":4.85},{"s":8,"t":144,"v":4.8},{"s":8,"t":168,"v":4.75},{"s":8,"t":192,"v":4.7},{"s":8,"t":232,"v":4.65},
{"s":9,"t":0,"v":5.42},{"s":9,"t":2.5,"v":6.02},{"s":9,"t":5,"v":7.1},{"s":9,"t":7,"v":7.7},{"s":9,"t":9.5,"v":6.98},{"s":9,"t":12,"v":5.9},{"s":9,"t":16,"v":5.42},{"s":9,"t":20,"v":5.35},{"s":9,"t":24,"v":5.16},{"s":9,"t":27.5,"v":6.29},{"s":9,"t":30,"v":7.3},{"s":9,"t":32.5,"v":6.4},{"s":9,"t":35,"v":5.5},{"s":9,"t":39,"v":5.16},{"s":9,"t":43,"v":5.05},{"s":9,"t":47,"v":5.12},{"s":9,"t":50.5,"v":6.44},{"s":9,"t":53,"v":7.5},{"s":9,"t":55.5,"v":6.44},{"s":9,"t":58,"v":5.38},{"s":9,"t":64,"v":4.7},{"s":9,"t":66,"v":6.05},{"s":9,"t":72,"v":5.75},{"s":9,"t":80,"v":5.45},{"s":9,"t":86,"v":5.3},{"s":9,"t":95,"v":5.55},{"s":9,"t":103,"v":5.25},{"s":9,"t":113,"v":5.45},{"s":9,"t":122,"v":5.15},{"s":9,"t":133,"v":5.25},{"s":9,"t":141,"v":5.28},{"s":9,"t":152,"v":5.1},{"s":9,"t":165,"v":5.1},{"s":9,"t":176,"v":5.18},{"s":9,"t":188,"v":5.05},{"s":9,"t":200,"v":5.05},{"s":9,"t":210,"v":5.08},{"s":9,"t":232,"v":5.04},
{"s":10,"t":0,"v":5.36},{"s":10,"t":2.5,"v":5.9},{"s":10,"t":5,"v":6.86},{"s":10,"t":7,"v":7.4},{"s":10,"t":9.5,"v":6.76},{"s":10,"t":12,"v":5.79},{"s":10,"t":16,"v":5.36},{"s":10,"t":20,"v":5.29},{"s":10,"t":24,"v":5.12},{"s":10,"t":27.5,"v":6.32},{"s":10,"t":30,"v":7.4},{"s":10,"t":32.5,"v":6.44},{"s":10,"t":35,"v":5.48},{"s":10,"t":39,"v":5.12},{"s":10,"t":43,"v":5.0},{"s":10,"t":47,"v":5.04},{"s":10,"t":50.5,"v":6.21},{"s":10,"t":53,"v":7.15},{"s":10,"t":55.5,"v":6.21},{"s":10,"t":58,"v":5.27},{"s":10,"t":64,"v":4.62},{"s":10,"t":65.8,"v":5.3},{"s":10,"t":70,"v":5.05},{"s":10,"t":80,"v":4.95},{"s":10,"t":92,"v":4.9},{"s":10,"t":104,"v":4.85},{"s":10,"t":120,"v":4.75},{"s":10,"t":144,"v":4.7},{"s":10,"t":168,"v":4.65},{"s":10,"t":192,"v":4.62},{"s":10,"t":232,"v":4.6},
{"s":11,"t":0,"v":5.5},{"s":11,"t":2.5,"v":6.52},{"s":11,"t":5,"v":8.34},{"s":11,"t":7,"v":9.35},{"s":11,"t":9.5,"v":8.14},{"s":11,"t":12,"v":6.31},{"s":11,"t":16,"v":5.5},{"s":11,"t":20,"v":5.38},{"s":11,"t":24,"v":5.2},{"s":11,"t":27.5,"v":6.7},{"s":11,"t":30,"v":8.05},{"s":11,"t":32.5,"v":6.85},{"s":11,"t":35,"v":5.65},{"s":11,"t":39,"v":5.2},{"s":11,"t":43,"v":5.05},{"s":11,"t":47,"v":5.15},{"s":11,"t":50.5,"v":6.65},{"s":11,"t":53,"v":7.85},{"s":11,"t":55.5,"v":6.65},{"s":11,"t":58,"v":5.45},{"s":11,"t":64,"v":4.65},{"s":11,"t":65.8,"v":6.0},{"s":11,"t":67.5,"v":5.4},{"s":11,"t":72,"v":5.1},{"s":11,"t":80,"v":5.0},{"s":11,"t":92,"v":4.95},{"s":11,"t":104,"v":4.9},{"s":11,"t":120,"v":4.8},{"s":11,"t":144,"v":4.7},{"s":11,"t":168,"v":4.68},{"s":11,"t":192,"v":4.65},{"s":11,"t":232,"v":4.6}
]
},
"resolve":{"scale":{"color":"independent"}},
"columns":3,
"bounds":"flush",
"spacing":{"row":65,"column":83},
"concat":[
{
 "width":352,"height":240,
 "title":{"text":"a"},
 "resolve":{"axis":{"x":"independent","y":"independent"}},
 "layer":[
  {"data":{"name":"a"},"mark":{"type":"line"},
   "encoding":{
    "x":{"field":"t","type":"quantitative","scale":{"domain":[-0.64,74.65],"nice":false,"zero":false},"axis":{"values":[0,24,48,72],"title":"Time (h)"}},
    "y":{"field":"v","type":"quantitative","scale":{"domain":[0,12],"nice":false,"zero":false},"axis":{"values":[0,5,10],"title":"PER2::LUC\u00a0 (x1000 counts/h)"}},
    "color":{"field":"s","type":"nominal","scale":{"domain":[1,2,3,4,5,6,7,8,9,10,11,12],"range":["#fa8a5e","#fa8a5e","#1648f5","#1ee6f0","#8fbf9f","#f88fbf","#f03cf0","#f2ee12","#f01818","#2ee31e","#0a0a0a","#0a0a0a"]},"legend":null},
    "strokeWidth":{"condition":{"test":"datum.s>=11","value":2.4},"value":1.8}
   }},
  {"data":{"values":[{"t":72.7,"v":10.85,"txt":"WT Neonate"}]},
   "mark":{"type":"text","align":"right","baseline":"alphabetic","fontSize":21},
   "encoding":{
    "x":{"field":"t","type":"quantitative","axis":{"orient":"top","values":[0,24,48,72],"labels":false,"title":null}},
    "y":{"field":"v","type":"quantitative","axis":{"orient":"right","values":[0,5,10],"labels":false,"title":null}},
    "text":{"field":"txt"}}}
 ]
},
{
 "width":353,"height":240,
 "title":{"text":"b"},
 "resolve":{"axis":{"x":"independent","y":"independent"}},
 "layer":[
  {"data":{"name":"b"},"mark":{"type":"line"},
   "encoding":{
    "x":{"field":"t","type":"quantitative","scale":{"domain":[-0.43,75.0],"nice":false,"zero":false},"axis":{"values":[0,24,48,72],"title":"Time (h)"}},
    "y":{"field":"v","type":"quantitative","scale":{"domain":[0,4.21],"nice":false,"zero":false},"axis":{"values":[0,1,2,3,4],"title":"PER2::LUC\u00a0 (x10,000 counts/h)"}},
    "color":{"field":"s","type":"nominal","scale":{"domain":[1,2,3,4,5,6,7,8,9,10,11,12],"range":["#f03cf0","#1648f5","#f2ee12","#8fbf9f","#1648f5","#1ee6f0","#f88fbf","#f01818","#fa8a5e","#2ee31e","#0a0a0a","#0a0a0a"]},"legend":null},
    "strokeWidth":{"condition":{"test":"datum.s>=11","value":2.2},"value":1.8}
   }},
  {"data":{"values":[{"t":72.1,"v":3.86,"txt":"WT Adult"}]},
   "mark":{"type":"text","align":"right","baseline":"alphabetic","fontSize":21},
   "encoding":{
    "x":{"field":"t","type":"quantitative","axis":{"orient":"top","values":[0,24,48,72],"labels":false,"title":null}},
    "y":{"field":"v","type":"quantitative","axis":{"orient":"right","values":[0,1,2,3,4],"labels":false,"title":null}},
    "text":{"field":"txt"}}}
 ]
},
{
 "width":356,"height":240,
 "title":{"text":"c"},
 "resolve":{"axis":{"x":"independent","y":"independent"}},
 "layer":[
  {"data":{"name":"c"},"mark":{"type":"line"},
   "encoding":{
    "x":{"field":"t","type":"quantitative","scale":{"domain":[-1.8,231.7],"nice":false,"zero":false},"axis":{"values":[0,24,48,72,96,120,144,168,192,216],"title":"Time (h)"}},
    "y":{"field":"v","type":"quantitative","scale":{"domain":[4,14],"nice":false,"zero":false},"axis":{"values":[4,8,12],"title":"PER2::LUC\u00a0 (x100 counts/h)"}},
    "color":{"field":"s","type":"nominal","scale":{"domain":[1,2,3,4,5,6,7,8,9,10,11],"range":["#f2ee12","#f03cf0","#8fbf9f","#fa8a5e","#f88fbf","#1ee6f0","#f01818","#2ee31e","#1648f5","#0a0a0a","#0a0a0a"]},"legend":null},
    "strokeWidth":{"condition":{"test":"datum.s>=10","value":2.4},"value":1.8}
   }},
  {"data":{"values":[{"t":65}]},"mark":{"type":"rule","strokeDash":[1.5,1.5],"strokeWidth":1,"color":"#333"},
   "encoding":{"x":{"field":"t","type":"quantitative","axis":null}}},
  {"data":{"values":[{"t":223.4,"v":13.14,"txt":"WT Neonate+TTX"}]},
   "mark":{"type":"text","align":"right","baseline":"alphabetic","fontSize":21},
   "encoding":{
    "x":{"field":"t","type":"quantitative","axis":{"orient":"top","values":[0,24,48,72,96,120,144,168,192,216],"labels":false,"title":null}},
    "y":{"field":"v","type":"quantitative","axis":{"orient":"right","values":[4,8,12],"labels":false,"title":null}},
    "text":{"field":"txt"}}}
 ]
},
{
 "width":353,"height":240,
 "title":{"text":"d"},
 "resolve":{"axis":{"x":"independent","y":"independent"}},
 "layer":[
  {"data":{"name":"d"},"mark":{"type":"line"},
   "encoding":{
    "x":{"field":"t","type":"quantitative","scale":{"domain":[-0.21,74.33],"nice":false,"zero":false},"axis":{"values":[0,24,48,72],"title":"Time (h)"}},
    "y":{"field":"v","type":"quantitative","scale":{"domain":[0,11],"nice":false,"zero":false},"axis":{"values":[0,5,10],"title":"PER2::LUC\u00a0 (x1000 counts/h)"}},
    "color":{"field":"s","type":"nominal","scale":{"domain":[1,2,3,4,5,6,7,8,9,10,11],"range":["#8fbf9f","#2ee31e","#f01818","#fa8a5e","#f88fbf","#f03cf0","#f2ee12","#1648f5","#1ee6f0","#0a0a0a","#0a0a0a"]},"legend":null},
    "strokeWidth":{"condition":{"test":"datum.s>=10","value":2.4},"value":1.8}
   }},
  {"data":{"values":[{"t":72.1,"v":9.93,"txt":"Neonate"}]},
   "mark":{"type":"text","align":"right","baseline":"alphabetic","fontSize":21},
   "encoding":{
    "x":{"field":"t","type":"quantitative","axis":{"orient":"top","values":[0,24,48,72],"labels":false,"title":null}},
    "y":{"field":"v","type":"quantitative","axis":{"orient":"right","values":[0,5,10],"labels":false,"title":null}},
    "text":{"field":"txt"}}},
  {"data":{"values":[{"t":26.0,"v":9.93,"txt":"Cry1"},{"t":38.9,"v":9.93,"txt":"/Cry2"}]},
   "mark":{"type":"text","align":"left","baseline":"alphabetic","fontSize":21,"fontStyle":"italic"},
   "encoding":{"x":{"field":"t","type":"quantitative","axis":null},"y":{"field":"v","type":"quantitative","axis":null},"text":{"field":"txt"}}},
  {"data":{"values":[{"t":36.0,"v":10.3,"txt":"-/-"},{"t":49.5,"v":10.3,"txt":"-/-"}]},
   "mark":{"type":"text","align":"left","baseline":"alphabetic","fontSize":14},
   "encoding":{"x":{"field":"t","type":"quantitative","axis":null},"y":{"field":"v","type":"quantitative","axis":null},"text":{"field":"txt"}}}
 ]
},
{
 "width":357,"height":240,
 "title":{"text":"e"},
 "resolve":{"axis":{"x":"independent","y":"independent"}},
 "layer":[
  {"data":{"name":"e"},"mark":{"type":"line","interpolate":"linear"},
   "encoding":{
    "x":{"field":"t","type":"quantitative","scale":{"domain":[-0.57,75.2],"nice":false,"zero":false},"axis":{"values":[0,24,48,72],"title":"Time (h)"}},
    "y":{"field":"v","type":"quantitative","scale":{"domain":[0.4,2.7],"nice":false,"zero":false},"axis":{"values":[1,2],"title":"PER2::LUC\u00a0 (x1000 counts/h)"}},
    "color":{"field":"s","type":"nominal","scale":{"domain":[1,2,3,4,5,6,7,8,9,10,11,12],"range":["#f2ee12","#f01818","#1648f5","#fa8a5e","#f88fbf","#1ee6f0","#8fbf9f","#2ee31e","#f01818","#f2ee12","#0a0a0a","#0a0a0a"]},"legend":null},
    "strokeWidth":{"condition":{"test":"datum.s>=11","value":2.2},"value":1.8}
   }},
  {"data":{"values":[{"t":73.6,"v":2.47,"txt":"Adult"}]},
   "mark":{"type":"text","align":"right","baseline":"alphabetic","fontSize":21},
   "encoding":{
    "x":{"field":"t","type":"quantitative","axis":{"orient":"top","values":[0,24,48,72],"labels":false,"title":null}},
    "y":{"field":"v","type":"quantitative","axis":{"orient":"right","values":[1,2],"labels":false,"title":null}},
    "text":{"field":"txt"}}},
  {"data":{"values":[{"t":34.1,"v":2.47,"txt":"Cry1"},{"t":46.9,"v":2.47,"txt":"/Cry2"}]},
   "mark":{"type":"text","align":"left","baseline":"alphabetic","fontSize":21,"fontStyle":"italic"},
   "encoding":{"x":{"field":"t","type":"quantitative","axis":null},"y":{"field":"v","type":"quantitative","axis":null},"text":{"field":"txt"}}},
  {"data":{"values":[{"t":43.9,"v":2.57,"txt":"-/-"},{"t":57.5,"v":2.57,"txt":"-/-"}]},
   "mark":{"type":"text","align":"left","baseline":"alphabetic","fontSize":14},
   "encoding":{"x":{"field":"t","type":"quantitative","axis":null},"y":{"field":"v","type":"quantitative","axis":null},"text":{"field":"txt"}}}
 ]
},
{
 "width":356,"height":240,
 "title":{"text":"f"},
 "resolve":{"axis":{"x":"independent","y":"independent"}},
 "layer":[
  {"data":{"name":"f"},"mark":{"type":"line"},
   "encoding":{
    "x":{"field":"t","type":"quantitative","scale":{"domain":[-1.8,231.7],"nice":false,"zero":false},"axis":{"values":[0,24,48,72,96,120,144,168,192,216],"title":"Time (h)"}},
    "y":{"field":"v","type":"quantitative","scale":{"domain":[4,10],"nice":false,"zero":false},"axis":{"values":[4,6,8,10],"title":"PER2::LUC\u00a0 (x100 counts/h)"}},
    "color":{"field":"s","type":"nominal","scale":{"domain":[1,2,3,4,5,6,7,8,9,10,11],"range":["#f03cf0","#f88fbf","#fa8a5e","#1ee6f0","#f01818","#f2ee12","#8fbf9f","#2ee31e","#1648f5","#0a0a0a","#0a0a0a"]},"legend":null},
    "strokeWidth":{"condition":{"test":"datum.s>=10","value":2.4},"value":1.8}
   }},
  {"data":{"values":[{"t":65}]},"mark":{"type":"rule","strokeDash":[1.5,1.5],"strokeWidth":1,"color":"#333"},
   "encoding":{"x":{"field":"t","type":"quantitative","axis":null}}},
  {"data":{"values":[{"t":226.9,"v":9.34,"txt":"Neonate + TTX"}]},
   "mark":{"type":"text","align":"right","baseline":"alphabetic","fontSize":21},
   "encoding":{
    "x":{"field":"t","type":"quantitative","axis":{"orient":"top","values":[0,24,48,72,96,120,144,168,192,216],"labels":false,"title":null}},
    "y":{"field":"v","type":"quantitative","axis":{"orient":"right","values":[4,6,8,10],"labels":false,"title":null}},
    "text":{"field":"txt"}}},
  {"data":{"values":[{"t":42.0,"v":9.34,"txt":"Cry1"},{"t":82.0,"v":9.34,"txt":"/Cry2"}]},
   "mark":{"type":"text","align":"left","baseline":"alphabetic","fontSize":21,"fontStyle":"italic"},
   "encoding":{"x":{"field":"t","type":"quantitative","axis":null},"y":{"field":"v","type":"quantitative","axis":null},"text":{"field":"txt"}}},
  {"data":{"values":[{"t":72.0,"v":9.6,"txt":"-/-"},{"t":115.4,"v":9.6,"txt":"-/-"}]},
   "mark":{"type":"text","align":"left","baseline":"alphabetic","fontSize":14},
   "encoding":{"x":{"field":"t","type":"quantitative","axis":null},"y":{"field":"v","type":"quantitative","axis":null},"text":{"field":"txt"}}}
 ]
}
]
}
